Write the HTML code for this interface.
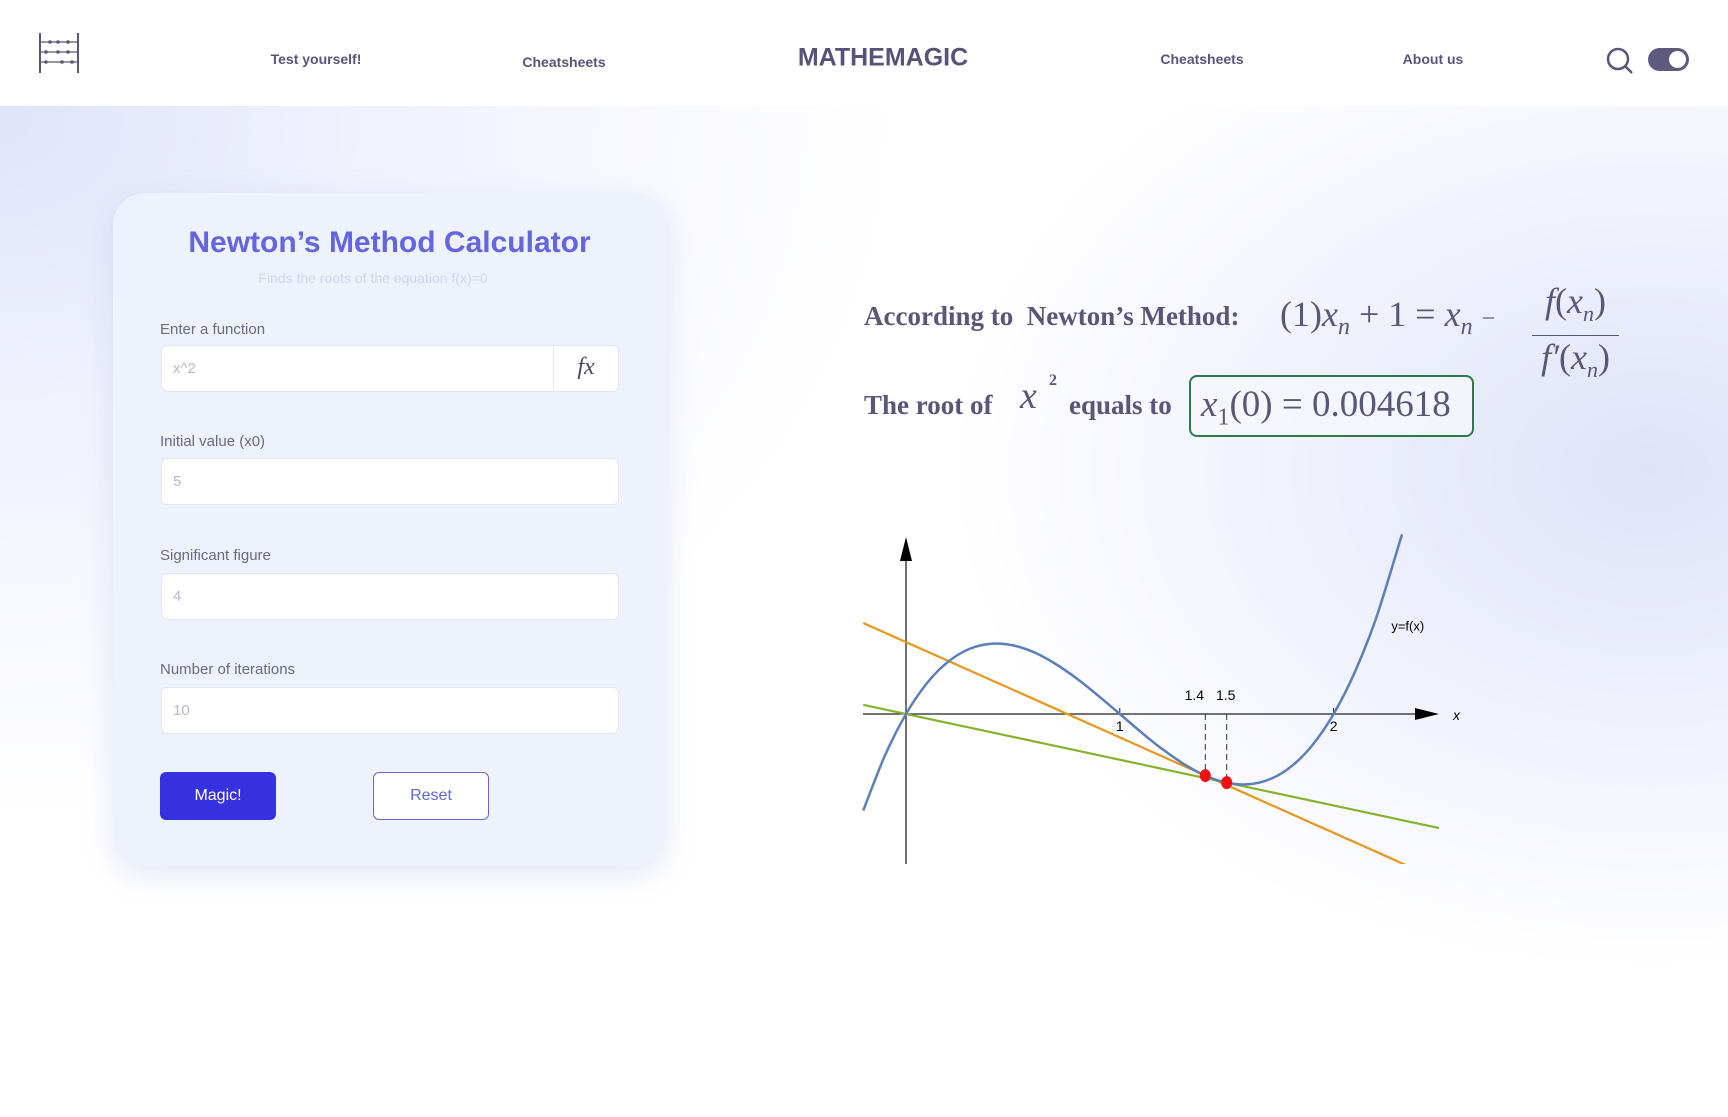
<!DOCTYPE html>
<html><head><meta charset="utf-8"><style>
*{box-sizing:border-box;margin:0;padding:0}
body{width:1728px;height:1117px;overflow:hidden;position:relative;font-family:"Liberation Sans",sans-serif;
background:radial-gradient(ellipse 700px 500px at 1650px 470px,#dfe3fa 0%,rgba(223,227,250,0) 100%),
radial-gradient(ellipse 900px 700px at 0px 120px,#e0e4fb 0%,rgba(224,228,251,0.5) 40%,rgba(255,255,255,0) 100%),#fff;}
.abs{position:absolute}
header{position:absolute;left:0;top:0;width:1728px;height:106px;background:#fff}
.nav{position:absolute;font-size:14px;font-weight:bold;color:#58557a;transform:translate(-50%,-50%);white-space:nowrap}
.card{left:113px;top:193px;width:553px;height:672px;border-radius:32px;background:#eef2fd;box-shadow:0 10px 30px rgba(180,190,230,0.35)}
.lbl{position:absolute;left:160px;font-size:15px;color:#6a6980}
.inp{position:absolute;left:161px;width:458px;height:47px;background:#fff;border:1px solid #e2e5f2;border-radius:6px;font-size:15px;color:#b8b8c8;padding:14px 0 0 11px}
.serif{font-family:"Liberation Serif",serif;color:#5a5678}
</style></head><body>
<header>
<svg class="abs" style="left:38px;top:33px" width="42" height="40" viewBox="0 0 42 40">
<g stroke="#5a5678" stroke-width="2" fill="none"><line x1="2" y1="0" x2="2" y2="40"/><line x1="40" y1="0" x2="40" y2="40"/></g>
<g stroke="#5a5678" stroke-width="1.2"><line x1="2" y1="9" x2="40" y2="9"/><line x1="2" y1="19" x2="40" y2="19"/><line x1="2" y1="29" x2="40" y2="29"/></g>
<g fill="#5a5678"><circle cx="12" cy="9" r="1.8"/><circle cx="20" cy="9" r="1.8"/><circle cx="30" cy="9" r="1.8"/><circle cx="8" cy="19" r="1.8"/><circle cx="20" cy="19" r="1.8"/><circle cx="30" cy="19" r="1.8"/><circle cx="8" cy="29" r="1.8"/><circle cx="24" cy="29" r="1.8"/><circle cx="34" cy="29" r="1.8"/></g></svg>
<div class="nav" style="left:316px;top:59px">Test yourself!</div>
<div class="nav" style="left:564px;top:62px">Cheatsheets</div>
<div class="nav" style="left:883px;top:58px;font-size:25px;color:#55537a">MATHEMAGIC</div>
<div class="nav" style="left:1202px;top:59px">Cheatsheets</div>
<div class="nav" style="left:1433px;top:59px">About us</div>
<svg class="abs" style="left:1605px;top:46px" width="30" height="30"><circle cx="13" cy="13" r="10" stroke="#5a5678" stroke-width="2.5" fill="none"/><line x1="20" y1="20" x2="27" y2="27" stroke="#5a5678" stroke-width="2.5"/></svg>
<div class="abs" style="left:1648px;top:48px;width:41px;height:23px;border-radius:12px;background:#5e5a7e"><div class="abs" style="right:3px;top:3px;width:17px;height:17px;border-radius:50%;background:#fff"></div></div>
</header>

<div class="abs card"></div>
<div class="abs" style="left:113px;width:553px;top:226px;text-align:center;font-size:30px;font-weight:bold;color:#6465e0">Newton’s Method Calculator</div>
<div class="abs" style="left:113px;width:520px;top:270px;text-align:center;font-size:14px;color:#d2d5ea">Finds the roots of the equation f(x)=0</div>
<div class="lbl" style="top:321px">Enter a function</div>
<div class="inp" style="top:345px">x^2</div>
<div class="abs" style="left:553px;top:346px;width:65px;height:45px;border-left:1px solid #e2e5f2;text-align:center;font:italic 24px 'Liberation Serif',serif;color:#4a4866;padding-top:8px">fx</div>
<div class="lbl" style="top:433px">Initial value (x0)</div>
<div class="inp" style="top:458px">5</div>
<div class="lbl" style="top:547px">Significant figure</div>
<div class="inp" style="top:573px">4</div>
<div class="lbl" style="top:661px">Number of iterations</div>
<div class="inp" style="top:687px">10</div>
<div class="abs" style="left:160px;top:772px;width:116px;height:48px;border-radius:6px;background:#3631e0;color:#fff;font-size:16px;text-align:center;line-height:48px">Magic!</div>
<div class="abs" style="left:373px;top:772px;width:116px;height:48px;border-radius:6px;border:1.5px solid #6466e0;background:#fff;color:#6466e0;font-size:16px;text-align:center;line-height:45px">Reset</div>

<div class="abs serif" style="left:864px;top:301px;font-size:27px;font-weight:bold">According to&nbsp; Newton’s Method:</div>
<div class="abs serif" style="left:1280px;top:293px;font-size:36px">(1)<i>x<sub style="font-size:24px">n</sub></i> + 1 = <i>x<sub style="font-size:24px">n</sub></i> <span style="font-size:24px">−</span></div>
<div class="abs serif" style="left:1532px;top:280px;width:87px;text-align:center;font-size:36px;line-height:42px"><div style="border-bottom:1.5px solid #5a5678"><i>f</i>(<i>x<sub style="font-size:22px">n</sub></i>)</div><div><i>f′</i>(<i>x<sub style="font-size:22px">n</sub></i>)</div></div>
<div class="abs serif" style="left:864px;top:390px;font-size:27px;font-weight:bold">The root of</div>
<div class="abs serif" style="left:1020px;top:374px;font-size:38px;font-style:italic">x</div>
<div class="abs serif" style="left:1049px;top:372px;font-size:16px;font-weight:bold">2</div>
<div class="abs serif" style="left:1069px;top:390px;font-size:27px;font-weight:bold">equals to</div>
<div class="abs serif" style="left:1189px;top:375px;width:285px;height:62px;border:2px solid #2c7a4c;border-radius:8px;background:rgba(245,248,252,0.8);font-size:37px;padding:6px 0 0 10px;white-space:nowrap"><i>x</i><sub style="font-size:24px">1</sub>(0) = 0.004618</div>

<svg id="chart" class="abs" style="left:0;top:0" width="1728" height="1117"></svg>
<script>
const curveX=[-0.2,-0.1,0,0.1,0.2,0.3,0.4,0.5,0.6,0.7,0.8,0.9,1.0,1.1,1.2,1.3,1.4,1.5,1.6,1.7,1.8,1.9,2.0,2.1,2.2,2.32];
const curveY=[-0.452,-0.198,0,0.147,0.247,0.306,0.329,0.321,0.288,0.234,0.165,0.085,0,-0.085,-0.165,-0.234,-0.288,-0.321,-0.329,-0.306,-0.247,-0.147,0,0.198,0.452,0.84];
const tangentX=[1.4,1.5];
const tangentY=[-0.288,-0.321];
const tangentSlope=[-0.446,-0.214];
const tangentColors=["#e8961e","#86b22e"];
const tickValues=[1,2];
const tickLabels=["1","2"];
const markerLabels=["1.4","1.5"];
const OX=906,OY=714,U=213.8,LEFT=863,RIGHT=1439,BOTTOM=864,TOP=537;
const sx=v=>OX+v*U, sy=v=>OY-v*U;
const NS="http://www.w3.org/2000/svg";
const svg=document.getElementById('chart');
function mk(t,a){const e=document.createElementNS(NS,t);for(const k in a)e.setAttribute(k,a[k]);svg.appendChild(e);return e;}
const defs=mk('defs',{});
const cp=document.createElementNS(NS,'clipPath');cp.setAttribute('id','clip');
const cr=document.createElementNS(NS,'rect');cr.setAttribute('x',LEFT);cr.setAttribute('y',TOP);cr.setAttribute('width',RIGHT-LEFT);cr.setAttribute('height',BOTTOM-TOP);
cp.appendChild(cr);defs.appendChild(cp);
let e=mk('line',{x1:LEFT,y1:OY,x2:RIGHT-14,y2:OY,stroke:'#222','stroke-width':1.3});


e=mk('polygon',{points:`${RIGHT},${OY} ${RIGHT-24},${OY-6} ${RIGHT-24},${OY+6}`,fill:'#000'});


e=mk('line',{x1:OX,y1:BOTTOM,x2:OX,y2:TOP+14,stroke:'#222','stroke-width':1.3});


e=mk('polygon',{points:`${OX},${TOP} ${OX-6},${TOP+24} ${OX+6},${TOP+24}`,fill:'#000'});


e=mk('text',{x:RIGHT+14,y:OY+6,'font-size':14,'font-style':'italic','font-family':'Liberation Sans, sans-serif'});e.textContent='x';


tickValues.forEach((v,i)=>{
 let t=mk('line',{x1:sx(v),y1:OY-6,x2:sx(v),y2:OY,stroke:'#222'});
 
 
 let l=mk('text',{x:sx(v),y:OY+17,'font-size':14,'text-anchor':'middle','font-family':'Liberation Sans, sans-serif'});l.textContent=tickLabels[i];
 
 
});
tangentX.forEach((x0,i)=>{
 const y1=tangentY[i]+tangentSlope[i]*(-0.2-x0), y2=tangentY[i]+tangentSlope[i]*(2.5-x0);
 let l=mk('line',{x1:sx(-0.2),y1:sy(y1),x2:sx(2.5),y2:sy(y2),stroke:tangentColors[i],'stroke-width':2.2,'clip-path':'url(#clip)'});
 
 
});
// smooth curve (Catmull-Rom -> Bezier)
const P=curveX.map((x,i)=>[sx(x),sy(curveY[i])]);
let d='M'+P[0][0].toFixed(1)+','+P[0][1].toFixed(1);
for(let i=0;i<P.length-1;i++){
 const p0=P[Math.max(0,i-1)],p1=P[i],p2=P[i+1],p3=P[Math.min(P.length-1,i+2)];
 const c1=[p1[0]+(p2[0]-p0[0])/6,p1[1]+(p2[1]-p0[1])/6];
 const c2=[p2[0]-(p3[0]-p1[0])/6,p2[1]-(p3[1]-p1[1])/6];
 d+=` C${c1[0].toFixed(1)},${c1[1].toFixed(1)} ${c2[0].toFixed(1)},${c2[1].toFixed(1)} ${p2[0].toFixed(1)},${p2[1].toFixed(1)}`;
}
e=mk('path',{d:d,fill:'none',stroke:'#5b7fbd','stroke-width':2.5,'stroke-linejoin':'round'});


e=mk('text',{x:sx(2.27),y:sy(0.39),'font-size':13,'font-family':'Liberation Sans, sans-serif'});e.textContent='y=f(x)';


tangentX.forEach((x0,i)=>{
 let dl=mk('line',{x1:sx(x0),y1:OY,x2:sx(x0),y2:sy(tangentY[i]),stroke:'#333','stroke-dasharray':'6,4','stroke-width':1});
 
 
 let c=mk('ellipse',{cx:sx(x0),cy:sy(tangentY[i]),rx:5.5,ry:6.5,fill:'#f01010'});
 
 
 let t=mk('text',{x:sx(x0)-11+(i?10:0),y:OY-14,'font-size':14,'text-anchor':'middle','font-family':'Liberation Sans, sans-serif'});t.textContent=markerLabels[i];
 
 
});
</script>
</body></html>
